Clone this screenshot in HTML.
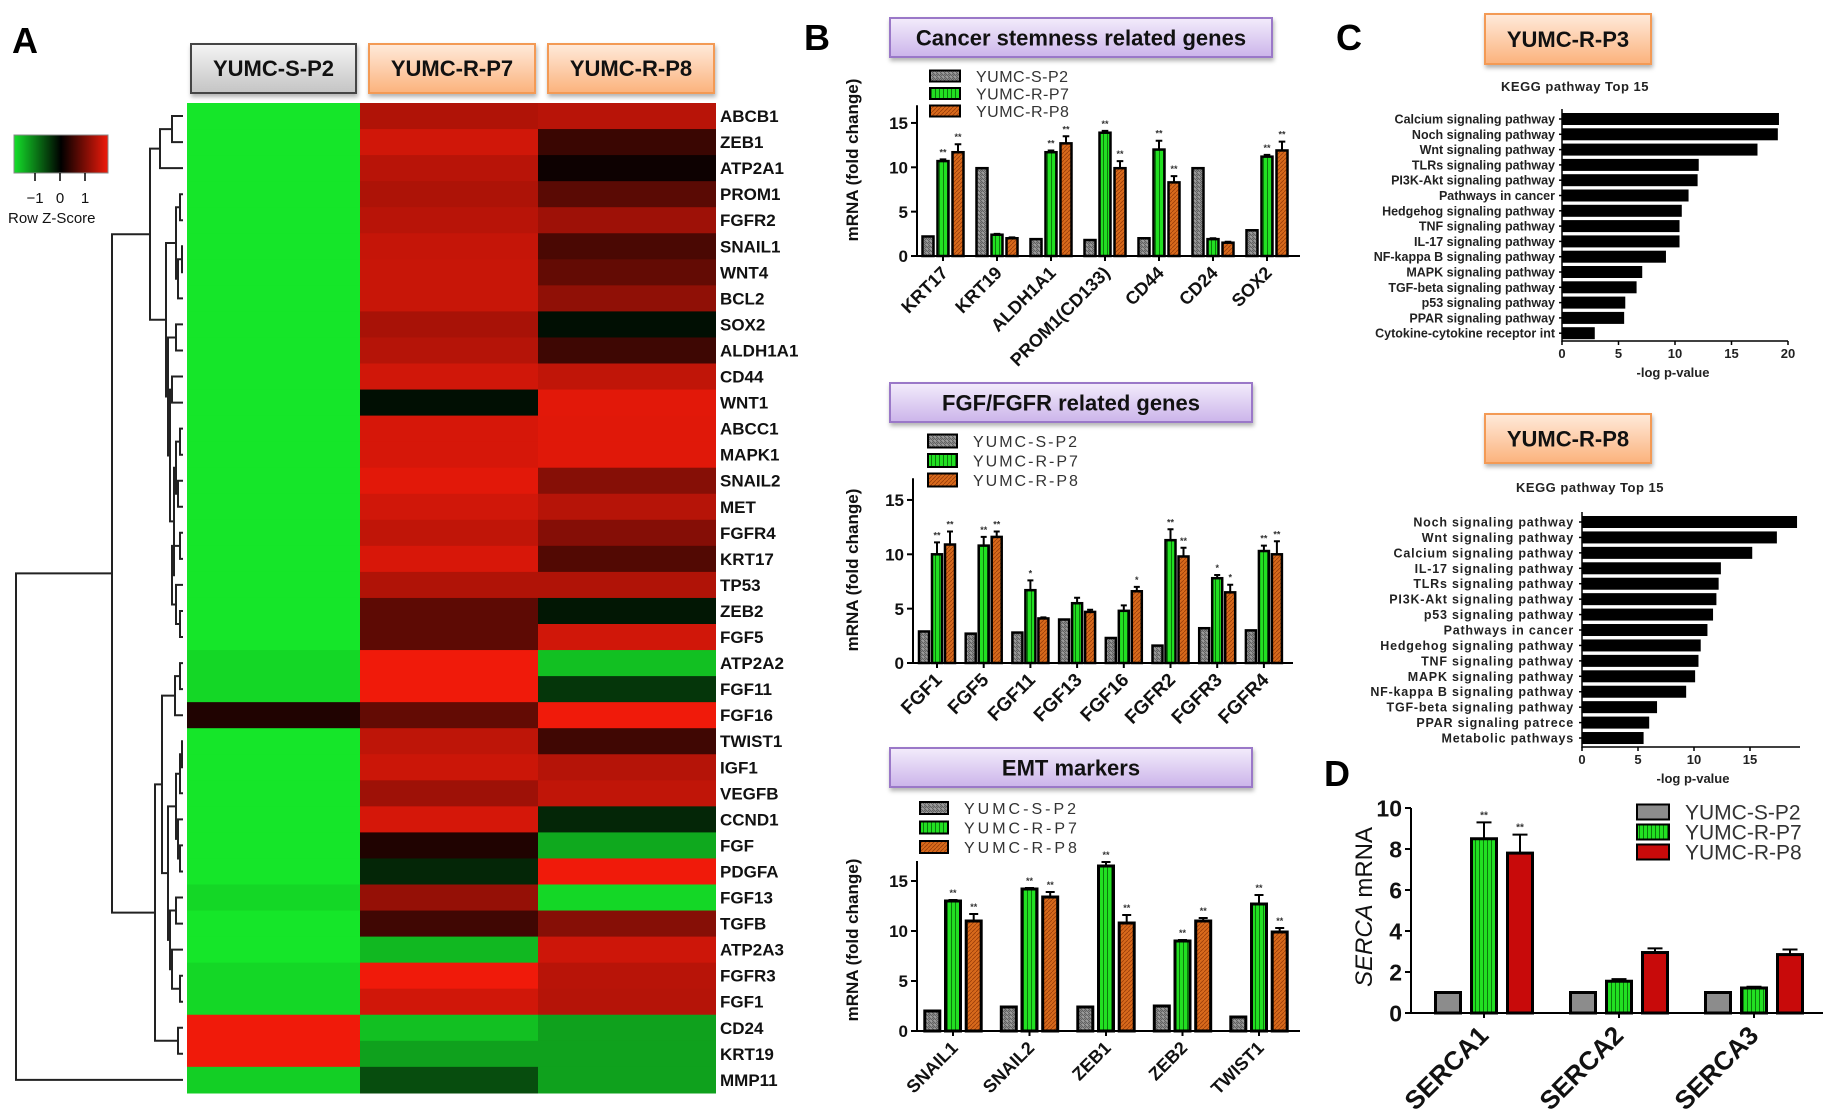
<!DOCTYPE html>
<html><head><meta charset="utf-8"><style>
html,body{margin:0;padding:0;background:#fff;}
svg{display:block;font-family:"Liberation Sans",Arial,sans-serif;}
</style></head><body>
<svg id="fig" width="1835" height="1114" viewBox="0 0 1835 1114" xmlns="http://www.w3.org/2000/svg">
<defs>
<linearGradient id="gPurple" x1="0" y1="0" x2="0" y2="1"><stop offset="0" stop-color="#f3ecfb"/><stop offset="1" stop-color="#cbb4ea"/></linearGradient>
<linearGradient id="gOrange" x1="0" y1="0" x2="0" y2="1"><stop offset="0" stop-color="#ffeadb"/><stop offset="1" stop-color="#fbb27c"/></linearGradient>
<linearGradient id="gGrey" x1="0" y1="0" x2="0" y2="1"><stop offset="0" stop-color="#f4f4f4"/><stop offset="1" stop-color="#c4c4c4"/></linearGradient>
<linearGradient id="gKey" x1="0" y1="0" x2="1" y2="0"><stop offset="0" stop-color="#14e02a"/><stop offset="0.5" stop-color="#000"/><stop offset="1" stop-color="#f01a0a"/></linearGradient>
<pattern id="pGrey" width="4" height="4" patternUnits="userSpaceOnUse"><rect width="4" height="4" fill="#9a9a9a"/><path d="M0 0L4 4M0 2L2 4" stroke="#555" stroke-width="0.8"/></pattern>
<pattern id="pGreen" width="4" height="4" patternUnits="userSpaceOnUse"><rect width="4" height="4" fill="#22e022"/><rect x="3" width="1" height="4" fill="#0b7a0b"/></pattern>
<pattern id="pOrange" width="4" height="4" patternUnits="userSpaceOnUse"><rect width="4" height="4" fill="#d86a1c"/><path d="M0 4L4 0" stroke="#9a3c08" stroke-width="0.8"/></pattern>
<filter id="sh" x="-10%" y="-20%" width="120%" height="160%"><feDropShadow dx="1" dy="3" stdDeviation="2" flood-color="#000" flood-opacity="0.3"/></filter>
</defs>
</svg>
<script>
// ---------- DATA ----------
const hmGenes = ["ABCB1","ZEB1","ATP2A1","PROM1","FGFR2","SNAIL1","WNT4","BCL2","SOX2","ALDH1A1","CD44","WNT1","ABCC1","MAPK1","SNAIL2","MET","FGFR4","KRT17","TP53","ZEB2","FGF5","ATP2A2","FGF11","FGF16","TWIST1","IGF1","VEGFB","CCND1","FGF","PDGFA","FGF13","TGFB","ATP2A3","FGFR3","FGF1","CD24","KRT19","MMP11"];
const hmSamples = ["YUMC-S-P2","YUMC-R-P7","YUMC-R-P8"];
const zS2 = [-1.5,-1.5,-1.5,-1.5,-1.5,-1.5,-1.5,-1.5,-1.5,-1.5,-1.5,-1.5,-1.5,-1.5,-1.5,-1.5,-1.5,-1.5,-1.5,-1.5,-1.5,-1.4,-1.4,0.2,-1.5,-1.5,-1.5,-1.5,-1.5,-1.5,-1.4,-1.5,-1.5,-1.4,-1.4,1.5,1.5,-1.35];
const zP7 = [1.1,1.3,1.15,1.08,1.15,1.23,1.25,1.25,1.05,1.13,1.3,-0.1,1.34,1.34,1.41,1.3,1.2,1.35,1.1,0.58,0.58,1.5,1.5,0.62,1.19,1.27,0.99,1.33,0.2,-0.25,0.93,0.4,-1.2,1.53,1.3,-1.25,-1.05,-0.5];
const zP8 = [1.15,0.36,0.08,0.56,0.99,0.46,0.62,0.9,-0.1,0.39,1.2,1.41,1.4,1.4,0.84,1.14,0.83,0.51,1.1,-0.15,1.3,-1.25,-0.35,1.5,0.4,1.13,1.2,-0.25,-1.1,1.5,-1.4,0.84,1.28,1.15,1.13,-1.05,-1.05,-1.05];

const b1Cats = ["KRT17","KRT19","ALDH1A1","PROM1(CD133)","CD44","CD24","SOX2"];
const b1S2 = [2.2,9.9,1.9,1.8,2.0,9.9,2.9];
const b1P7 = [10.7,2.4,11.7,13.9,12.0,1.9,11.2];
const b1P8 = [11.7,2.0,12.7,9.9,8.3,1.5,11.9];
const b1P7Err = [10.9,2.5,11.9,14.1,13.0,2.0,11.4];
const b1P8Err = [12.6,2.1,13.5,10.7,9.0,1.6,12.9];
const b1P7Star = ["**","","**","**","**","","**"];
const b1P8Star = ["**","","**","**","**","","**"];

const b2Cats = ["FGF1","FGF5","FGF11","FGF13","FGF16","FGFR2","FGFR3","FGFR4"];
const b2S2 = [2.9,2.7,2.8,4.0,2.3,1.6,3.2,3.0];
const b2P7 = [10.0,10.8,6.7,5.5,4.8,11.3,7.8,10.3];
const b2P8 = [10.9,11.6,4.1,4.7,6.6,9.8,6.5,10.0];
const b2P7Err = [11.1,11.6,7.6,6.0,5.3,12.3,8.1,10.8];
const b2P8Err = [12.1,12.1,4.2,4.9,7.0,10.6,7.2,11.2];
const b2P7Star = ["**","**","*","","","**","*","**"];
const b2P8Star = ["**","**","","","*","**","*","**"];

const b3Cats = ["SNAIL1","SNAIL2","ZEB1","ZEB2","TWIST1"];
const b3S2 = [2.0,2.4,2.4,2.5,1.4];
const b3P7 = [13.0,14.2,16.5,9.0,12.7];
const b3P8 = [11.0,13.4,10.8,11.0,9.9];
const b3P7Err = [13.1,14.3,16.9,9.1,13.6];
const b3P8Err = [11.7,13.9,11.6,11.3,10.3];
const b3P7Star = ["**","**","**","**","**"];
const b3P8Star = ["**","**","**","**","**"];

const dCats = ["SERCA1","SERCA2","SERCA3"];
const dS2 = [1,1,1];
const dP7 = [8.5,1.55,1.22];
const dP8 = [7.8,2.95,2.85];
const dP7Err = [9.3,1.65,1.28];
const dP8Err = [8.7,3.15,3.1];
const dP7Star = ["**","",""];
const dP8Star = ["**","",""];

const c1Labels = ["Calcium signaling pathway","Noch signaling pathway","Wnt signaling pathway","TLRs signaling pathway","PI3K-Akt signaling pathway","Pathways in cancer","Hedgehog signaling pathway","TNF signaling pathway","IL-17 signaling pathway","NF-kappa B signaling pathway","MAPK signaling pathway","TGF-beta signaling pathway","p53 signaling pathway","PPAR signaling pathway","Cytokine-cytokine receptor int"];
const c1Values = [19.2,19.1,17.3,12.1,12.0,11.2,10.6,10.4,10.4,9.2,7.1,6.6,5.6,5.5,2.9];
const c2Labels = ["Noch signaling pathway","Wnt signaling pathway","Calcium signaling pathway","IL-17 signaling pathway","TLRs signaling pathway","PI3K-Akt signaling pathway","p53 signaling pathway","Pathways in cancer","Hedgehog signaling pathway","TNF signaling pathway","MAPK signaling pathway","NF-kappa B signaling pathway","TGF-beta signaling pathway","PPAR signaling patrece","Metabolic pathways"];
const c2Values = [19.2,17.4,15.2,12.4,12.2,12.0,11.7,11.2,10.6,10.4,10.1,9.3,6.7,6.0,5.5];

// ---------- HELPERS ----------
const NS = "http://www.w3.org/2000/svg";
const fig = document.getElementById("fig");
function mk(tag, attrs, parent){
  const e = document.createElementNS(NS, tag);
  for (const k in attrs) e.setAttribute(k, attrs[k]);
  (parent || fig).appendChild(e);
  return e;
}
function txt(s, attrs, parent){ const e = mk("text", attrs, parent); e.textContent = s; return e; }

// ---------- PANEL LETTERS ----------
[["A",12,53],["B",804,50],["C",1336,50],["D",1324,786]].forEach(function(p){
  const t = txt(p[0], {x:p[1], y:p[2], "font-size":36, "font-weight":"bold", fill:"#000"});
  
  
});

// ---------- HEATMAP ----------
const hmG = mk("g", {});


const hmX = [187, 360, 538, 716];
const hmTop = 103, hmRowH = 26.05;
function zColor(z){
  const t = Math.min(1, Math.abs(z)/1.5);
  if (z >= 0) return "rgb(" + Math.round(t*240) + "," + Math.round(t*26) + "," + Math.round(t*10) + ")";
  return "rgb(" + Math.round(t*21) + "," + Math.round(t*230) + "," + Math.round(t*41) + ")";
}
const hmCols = [zS2, zP7, zP8];
hmCols.forEach(function(col, ci){
  col.forEach(function(z, ri){
    const r = mk("rect", {x:hmX[ci], y:(hmTop + ri*hmRowH).toFixed(2), width:hmX[ci+1]-hmX[ci], height:(hmRowH+0.6).toFixed(2), fill:zColor(z)}, hmG);
    
    
  });
});
hmGenes.forEach(function(g, ri){
  const t = txt(g, {x:720, y:(hmTop + ri*hmRowH + 19).toFixed(1), "font-size":17, fill:"#111", "font-family":"'Liberation Sans Narrow','Liberation Sans',sans-serif", "font-weight":"bold"}, hmG);
  
  
});
// sample header boxes
const hdr = [[191,356,"url(#gGrey)","#444"],[369,535,"url(#gOrange)","#f39a55"],[548,714,"url(#gOrange)","#f39a55"]];
hdr.forEach(function(h, i){
  const r = mk("rect", {x:h[0], y:44, width:h[1]-h[0], height:49, fill:h[2], stroke:h[3], "stroke-width":2, filter:"url(#sh)"});
  
  
  const t = txt(hmSamples[i], {x:(h[0]+h[1])/2, y:76, "text-anchor":"middle", "font-size":22, "font-weight":"bold", fill:"#111", "font-family":"'Liberation Sans Narrow','Liberation Sans',sans-serif"});
  
  
});
// colour key
const key = mk("rect", {x:14, y:135, width:94, height:38, fill:"url(#gKey)", stroke:"#888", "stroke-width":1});


[["−1",35],["0",60],["1",85]].forEach(function(k){
  const tk = mk("line", {x1:k[1], y1:173, x2:k[1], y2:181, stroke:"#000", "stroke-width":1.5});
  
  
  const t = txt(k[0], {x:k[1], y:203, "text-anchor":"middle", "font-size":15, fill:"#111"});
  
  
});
const kt = txt("Row Z-Score", {x:8, y:223, "font-size":15, fill:"#111", "font-family":"'Liberation Sans Narrow','Liberation Sans',sans-serif"});



// dendrogram
const tree = [16, [112, [150, [160,[172,0,1],2], [166,[176,[180,3,4],[178,[182,5,6],7]], [168,[176,8,9],[170,[172,10,11],[174,[176,[180,12,13],[178,14,15]],[172,[180,16,17],[176,18,[180,19,20]]]]]]]], [155,[162,[175,[180,21,22],23],[168,[176,[180,[182,24,25],26],[178,27,[180,28,29]]],[170,[176,30,31],[172,32,[180,33,34]]]]],[178,35,36]]], 37];
const dG = mk("g", {stroke:"#222", "stroke-width":2, fill:"none"});


function drawTree(n){
  if (typeof n === "number") return {x:183, y: hmTop + (n+0.5)*hmRowH};
  const a = drawTree(n[1]), b = drawTree(n[2]);
  const x = n[0];
  const p = mk("path", {d:"M"+a.x+" "+a.y.toFixed(1)+"H"+x+"V"+b.y.toFixed(1)+"H"+b.x}, dG);
  
  
  return {x:x, y:(a.y+b.y)/2};
}
drawTree(tree);

// ---------- GROUPED BAR CHART ----------
function titleBox(x1, y1, x2, y2, label, name, fill, stroke, fs){
  const r = mk("rect", {x:x1, y:y1, width:x2-x1, height:y2-y1, fill:fill, stroke:stroke, "stroke-width":2, filter:"url(#sh)"});
  
  
  const t = txt(label, {x:(x1+x2)/2, y:(y1+y2)/2 + fs*0.36, "text-anchor":"middle", "font-size":fs, "font-weight":"bold", fill:"#111"});
  
  
}
function barChart(c){
  const g = mk("g", {});
  
  
  const yS = function(v){ return c.y0 - v*c.ppu; };
  const fills = c.fills;
  const series = [c.s2, c.p7, c.p8];
  const errs = [null, c.p7e, c.p8e];
  const stars = [null, c.p7s, c.p8s];
  c.cats.forEach(function(cat, i){
    const cx = c.first + i*c.spacing;
    series.forEach(function(s, si){
      const bx = cx + (si-1)*c.off - c.bw/2;
      if (errs[si]) {
        const ex = cx + (si-1)*c.off;
        const el = mk("path", {d:"M"+ex+" "+yS(s[i])+"V"+yS(errs[si][i])+"M"+(ex-c.bw*0.3)+" "+yS(errs[si][i])+"H"+(ex+c.bw*0.3), stroke:"#000", "stroke-width":2, fill:"none"}, g);
        
        
        if (stars[si][i]) {
          const st = txt(stars[si][i], {x:ex, y:yS(errs[si][i]) - 4, "text-anchor":"middle", "font-size":c.starFs, "font-weight":"bold", fill:"#333"}, g);
          
          
        }
      }
      const r = mk("rect", {x:bx, y:yS(s[i]), width:c.bw, height:c.y0 - yS(s[i]), fill:fills[si], stroke:"#000", "stroke-width":c.sw}, g);
      
      
    });
    const tk = mk("line", {x1:cx, y1:c.y0, x2:cx, y2:c.y0+5, stroke:"#000", "stroke-width":2}, g);
    
    
    const ly = c.y0 + c.catDy;
    const lt = txt(cat, {x:cx+6, y:ly, "text-anchor":"end", "font-size":c.catFs, "font-weight":"bold", fill:"#111", transform:"rotate(-45 "+(cx+6)+" "+ly+")"}, g);
    
    
  });
  const ax = mk("path", {d:"M"+c.x0+" "+yS(c.ymax)+"V"+c.y0+"H"+c.xEnd, stroke:"#000", "stroke-width":2, fill:"none"}, g);
  
  
  c.ticks.forEach(function(v){
    const tk = mk("line", {x1:c.x0-6, y1:yS(v), x2:c.x0, y2:yS(v), stroke:"#000", "stroke-width":2}, g);
    
    
    const t = txt(String(v), {x:c.x0-9, y:yS(v)+c.tickFs*0.36, "text-anchor":"end", "font-size":c.tickFs, "font-weight":"bold", fill:"#111"}, g);
    
    
  });
  const yl = mk("text", {x:c.ylx, y:c.yly, "text-anchor":"middle", "font-size":c.ylFs, "font-weight":"bold", fill:"#111", transform:"rotate(-90 "+c.ylx+" "+c.yly+")"}, g);
  
  
  if (c.italicY) {
    const t1 = document.createElementNS(NS, "tspan"); t1.setAttribute("font-style","italic"); t1.setAttribute("font-weight","normal"); t1.textContent = "SERCA"; yl.appendChild(t1);
    const t2 = document.createElementNS(NS, "tspan"); t2.setAttribute("font-weight","normal"); t2.textContent = " mRNA"; yl.appendChild(t2);
  } else { yl.textContent = "mRNA (fold change)"; }
  hmSamples.forEach(function(s, i){
    const ly = c.legY + i*c.legDy;
    const r = mk("rect", {x:c.legX, y:ly - c.legH/2, width:c.legW, height:c.legH, fill:fills[i], stroke:"#000", "stroke-width":2}, g);
    
    
    const t = txt(s, {x:c.legX + c.legW + c.legGap, y:ly + c.legFs*0.36, "font-size":c.legFs, fill:"#333", "letter-spacing":c.legLs}, g);
    
    
  });
}
const bFills = ["url(#pGrey)","url(#pGreen)","url(#pOrange)"];

titleBox(890,18,1272,57,"Cancer stemness related genes","stemness-title","url(#gPurple)","#9a78c8",22);
barChart({name:"stemness-chart", cats:b1Cats, s2:b1S2, p7:b1P7, p8:b1P8, p7e:b1P7Err, p8e:b1P8Err, p7s:b1P7Star, p8s:b1P8Star,
  x0:917, xEnd:1300, y0:256, ppu:8.87, ymax:17, first:943, spacing:54, off:15, bw:11, sw:2.5, ticks:[0,5,10,15], tickFs:17, catFs:18, catDy:18, starFs:9,
  ylx:858, yly:160, ylFs:17, legX:930, legY:76, legDy:17.5, legW:30, legH:11, legGap:16, legFs:16, legLs:0.5, fills:bFills});

titleBox(890,383,1252,422,"FGF/FGFR related genes","fgf-title","url(#gPurple)","#9a78c8",22);
barChart({name:"fgf-chart", cats:b2Cats, s2:b2S2, p7:b2P7, p8:b2P8, p7e:b2P7Err, p8e:b2P8Err, p7s:b2P7Star, p8s:b2P8Star,
  x0:913, xEnd:1293, y0:663, ppu:10.87, ymax:17, first:937, spacing:46.7, off:13, bw:10, sw:2.5, ticks:[0,5,10,15], tickFs:17, catFs:19, catDy:18, starFs:9,
  ylx:858, yly:570, ylFs:17, legX:928, legY:441, legDy:19.5, legW:29, legH:13, legGap:16, legFs:16, legLs:2, fills:bFills});

titleBox(890,748,1252,787,"EMT markers","emt-title","url(#gPurple)","#9a78c8",22);
barChart({name:"emt-chart", cats:b3Cats, s2:b3S2, p7:b3P7, p8:b3P8, p7e:b3P7Err, p8e:b3P8Err, p7s:b3P7Star, p8s:b3P8Star,
  x0:917, xEnd:1300, y0:1031, ppu:10.0, ymax:17, first:953, spacing:76.5, off:20.7, bw:15, sw:3, ticks:[0,5,10,15], tickFs:17, catFs:18, catDy:18, starFs:9,
  ylx:858, yly:940, ylFs:17, legX:920, legY:808, legDy:19.5, legW:28, legH:12, legGap:16, legFs:16, legLs:3, fills:bFills});

barChart({name:"serca-chart", cats:dCats, s2:dS2, p7:dP7, p8:dP8, p7e:dP7Err, p8e:dP8Err, p7s:dP7Star, p8s:dP8Star,
  x0:1411, xEnd:1823, y0:1013, ppu:20.5, ymax:10, first:1484, spacing:135, off:36, bw:25, sw:3, ticks:[0,2,4,6,8,10], tickFs:23, catFs:26, catDy:24, starFs:10,
  ylx:1372, yly:907, ylFs:24, italicY:true, legX:1637, legY:812, legDy:20, legW:32, legH:15, legGap:16, legFs:21, legLs:0, fills:["#8c8c8c","url(#pGreen)","#c80a0a"]});

// ---------- KEGG HORIZONTAL BARS ----------
function keggChart(c){
  const g = mk("g", {});
  
  
  const xS = function(v){ return c.x0 + v*c.ppu; };
  c.labels.forEach(function(l, i){
    const y = c.first + i*c.spacing;
    const r = mk("rect", {x:c.x0, y:y - c.bh/2, width:xS(c.values[i]) - c.x0, height:c.bh, fill:"#000"}, g);
    
    
    const t = txt(l, {x:c.labX, y:y+4.5, "text-anchor":"end", "font-size":12.5, "font-weight":"bold", fill:"#222", "letter-spacing":c.ls}, g);
    
    
    const tk = mk("line", {x1:c.x0-3, y1:y, x2:c.x0, y2:y, stroke:"#000", "stroke-width":1.5}, g);
    
    
  });
  const ax = mk("path", {d:"M"+c.x0+" "+(c.first-10)+"V"+c.axY+"H"+c.xEnd, stroke:"#000", "stroke-width":1.5, fill:"none"}, g);
  
  
  c.ticks.forEach(function(v){
    if (xS(v) > c.xEnd + 1) return;
    const tk = mk("line", {x1:xS(v), y1:c.axY, x2:xS(v), y2:c.axY+4, stroke:"#000", "stroke-width":1.5}, g);
    
    
    const t = txt(String(v), {x:xS(v), y:c.axY+17, "text-anchor":"middle", "font-size":13, "font-weight":"bold", fill:"#222"}, g);
    
    
  });
  const xl = txt("-log p-value", {x:c.xlX, y:c.axY+36, "text-anchor":"middle", "font-size":13, "font-weight":"bold", fill:"#222"}, g);
  
  
  const kt = txt("KEGG pathway Top 15", {x:c.kx, y:c.ky, "text-anchor":"middle", "font-size":13, "font-weight":"bold", fill:"#222", "letter-spacing":0.5}, g);
  
  
}
titleBox(1485,14,1651,64,"YUMC-R-P3","p3-title","url(#gOrange)","#f39a55",22);
keggChart({name:"kegg-p3-chart", labels:c1Labels, values:c1Values, x0:1562, xEnd:1788, ppu:11.3, first:119, spacing:15.3, bh:12, labX:1555, axY:341, ticks:[0,5,10,15,20], xlX:1673, kx:1575, ky:91, ls:0});
titleBox(1485,414,1651,463,"YUMC-R-P8","p8-title","url(#gOrange)","#f39a55",22);
keggChart({name:"kegg-p8-chart", labels:c2Labels, values:c2Values, x0:1582, xEnd:1800, ppu:11.2, first:522, spacing:15.43, bh:12, labX:1574, axY:747, ticks:[0,5,10,15,20], xlX:1693, kx:1590, ky:492, ls:0.8});
</script>
</body></html>
